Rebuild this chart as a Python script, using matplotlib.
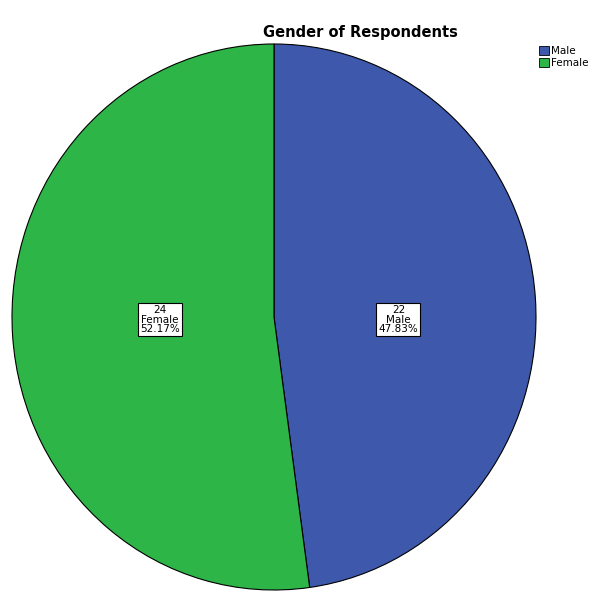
import numpy as np
import matplotlib.pyplot as plt
from matplotlib.patches import Patch

labels = ["Male", "Female"]
counts = [22, 24]
colors = ["#3E58AC", "#2EB547"]
title = "Gender of Respondents"

fig = plt.figure(figsize=(5.89, 5.94), dpi=100)
ax = fig.add_axes([12/589, 4/594, 524/589, 546/594])

total = sum(counts)
wedges, _ = ax.pie(counts, colors=colors, startangle=90, counterclock=False,
                   wedgeprops=dict(edgecolor="black", linewidth=0.8))
ax.set_aspect("auto")
ax.set_xlim(-1, 1)
ax.set_ylim(-1, 1)

# labels sit level with the centre, at ~45% of the radius
for w, n, lab in zip(wedges, counts, labels):
    ang = np.deg2rad((w.theta1 + w.theta2) / 2)
    ax.text(0.455*np.sign(np.cos(ang)) + 0.02, -0.01,
            "%d\n%s\n%.2f%%" % (n, lab, 100*n/total),
            ha="center", va="center", fontsize=7.5, linespacing=0.95,
            bbox=dict(boxstyle="square,pad=0.2", fc="white", ec="black", lw=0.8))

fig.text(360/589, 1 - 32/594, title, ha="center", va="center",
         fontsize=10.5, fontweight="bold")

handles = [Patch(fc=c, ec="black", lw=0.6) for c in colors]
fig.legend(handles, labels, loc="upper left", bbox_to_anchor=(539/589, 1 - 46/594),
           frameon=False, fontsize=7.5, handlelength=0.95, handleheight=0.95,
           handletextpad=0.2, labelspacing=0.15, borderaxespad=0, borderpad=0)

fig.savefig("out.png", dpi=100)
